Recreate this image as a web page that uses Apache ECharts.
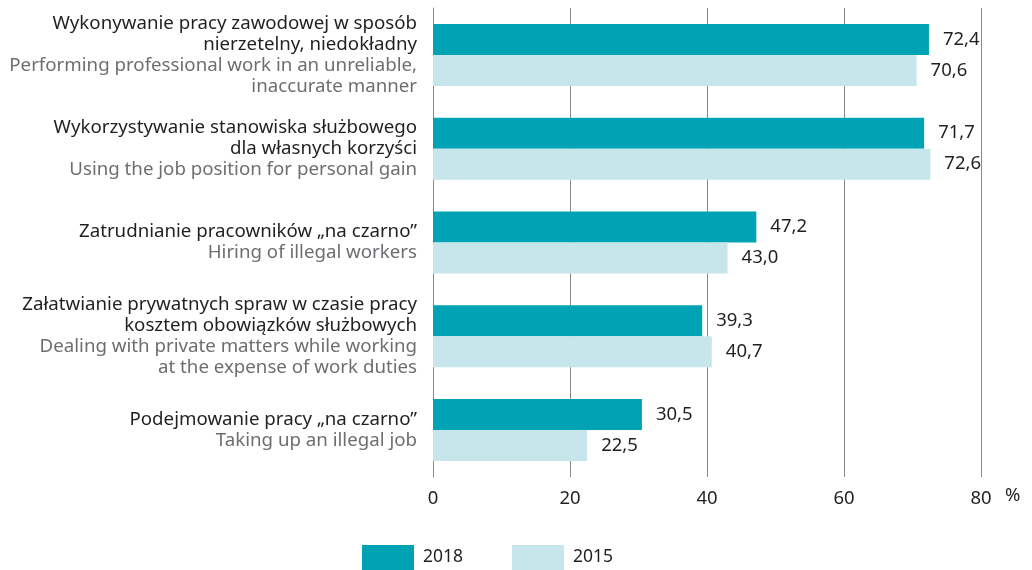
<!DOCTYPE html>
<html><head><meta charset="utf-8">
<script src="https://cdn.jsdelivr.net/npm/echarts@6/dist/echarts.min.js"></script>
<style>html,body{margin:0;padding:0;background:#fff}#c{width:1032px;height:570px}</style>
</head><body><div id="c"></div>
<script>
const categoriesPl = [
  "Wykonywanie pracy zawodowej w sposób\nnierzetelny, niedokładny",
  "Wykorzystywanie stanowiska służbowego\ndla własnych korzyści",
  "Zatrudnianie pracowników „na czarno”",
  "Załatwianie prywatnych spraw w czasie pracy\nkosztem obowiązków służbowych",
  "Podejmowanie pracy „na czarno”"
];
const categoriesEn = [
  "Performing professional work in an unreliable,\ninaccurate manner",
  "Using the job position for personal gain",
  "Hiring of illegal workers",
  "Dealing with private matters while working\nat the expense of work duties",
  "Taking up an illegal job"
];
const values2018 = [72.4, 71.7, 47.2, 39.3, 30.5];
const values2015 = [70.6, 72.6, 43.0, 40.7, 22.5];
const xTicks = [0, 20, 40, 60, 80];
const seriesNames = ["2018", "2015"];

const FONT = "Noto Sans";
const chart = echarts.init(document.getElementById('c'));
const fmtVal = p => p.value.toFixed(1).replace('.', ',');
const catLabel = (v, i) => {
  const pl = categoriesPl[i].split('\n').map(s => '{a|' + s + '}');
  const en = categoriesEn[i].split('\n').map(s => '{b|' + s + '}');
  return pl.concat(en).join('\n');
};
chart.setOption({
  animation: false,
  textStyle: { fontFamily: FONT },
  grid: { left: 433, right: 51, top: 8, bottom: 93, containLabel: false },
  xAxis: {
    type: 'value', min: xTicks[0], max: xTicks[xTicks.length - 1], interval: 20,
    axisLine: { show: false }, axisTick: { show: false },
    splitLine: { show: true, lineStyle: { color: '#8a8a8a', width: 1 } },
    axisLabel: { color: '#231f20', fontSize: 18.5, margin: 12, fontFamily: FONT }
  },
  yAxis: {
    type: 'category', inverse: true, data: categoriesPl.map((c, i) => i),
    axisLine: { show: true, lineStyle: { color: '#8a8a8a', width: 1 } },
    axisTick: { show: false },
    axisLabel: {
      margin: 16, align: 'right', formatter: catLabel,
      rich: {
        a: { fontSize: 18.7, color: '#231f20', lineHeight: 21, fontFamily: FONT, align: 'right' },
        b: { fontSize: 18.7, color: '#6d6e71', lineHeight: 21, fontFamily: FONT, align: 'right' }
      }
    }
  },
  legend: {
    top: 545, left: 362, padding: 0, itemWidth: 52, itemHeight: 25, itemGap: 49,
    icon: 'rect', textStyle: { fontSize: 17.5, color: '#231f20', fontFamily: FONT, padding: [0, 0, 0, 4] },
    data: seriesNames
  },
  graphic: [{ type: 'text', left: 1005, top: 486, style: { text: '%', fontSize: 18.5, fill: '#231f20', fontFamily: FONT } }],
  series: [
    { name: seriesNames[0], type: 'bar', data: values2018, barWidth: 31, barGap: '0%',
      itemStyle: { color: '#00a3b4' },
      label: { show: true, position: 'right', distance: 14, formatter: fmtVal, fontSize: 18.5, color: '#231f20', fontFamily: FONT } },
    { name: seriesNames[1], type: 'bar', data: values2015, barWidth: 31,
      itemStyle: { color: '#c6e6eb' },
      label: { show: true, position: 'right', distance: 14, formatter: fmtVal, fontSize: 18.5, color: '#231f20', fontFamily: FONT } }
  ]
});
</script></body></html>
